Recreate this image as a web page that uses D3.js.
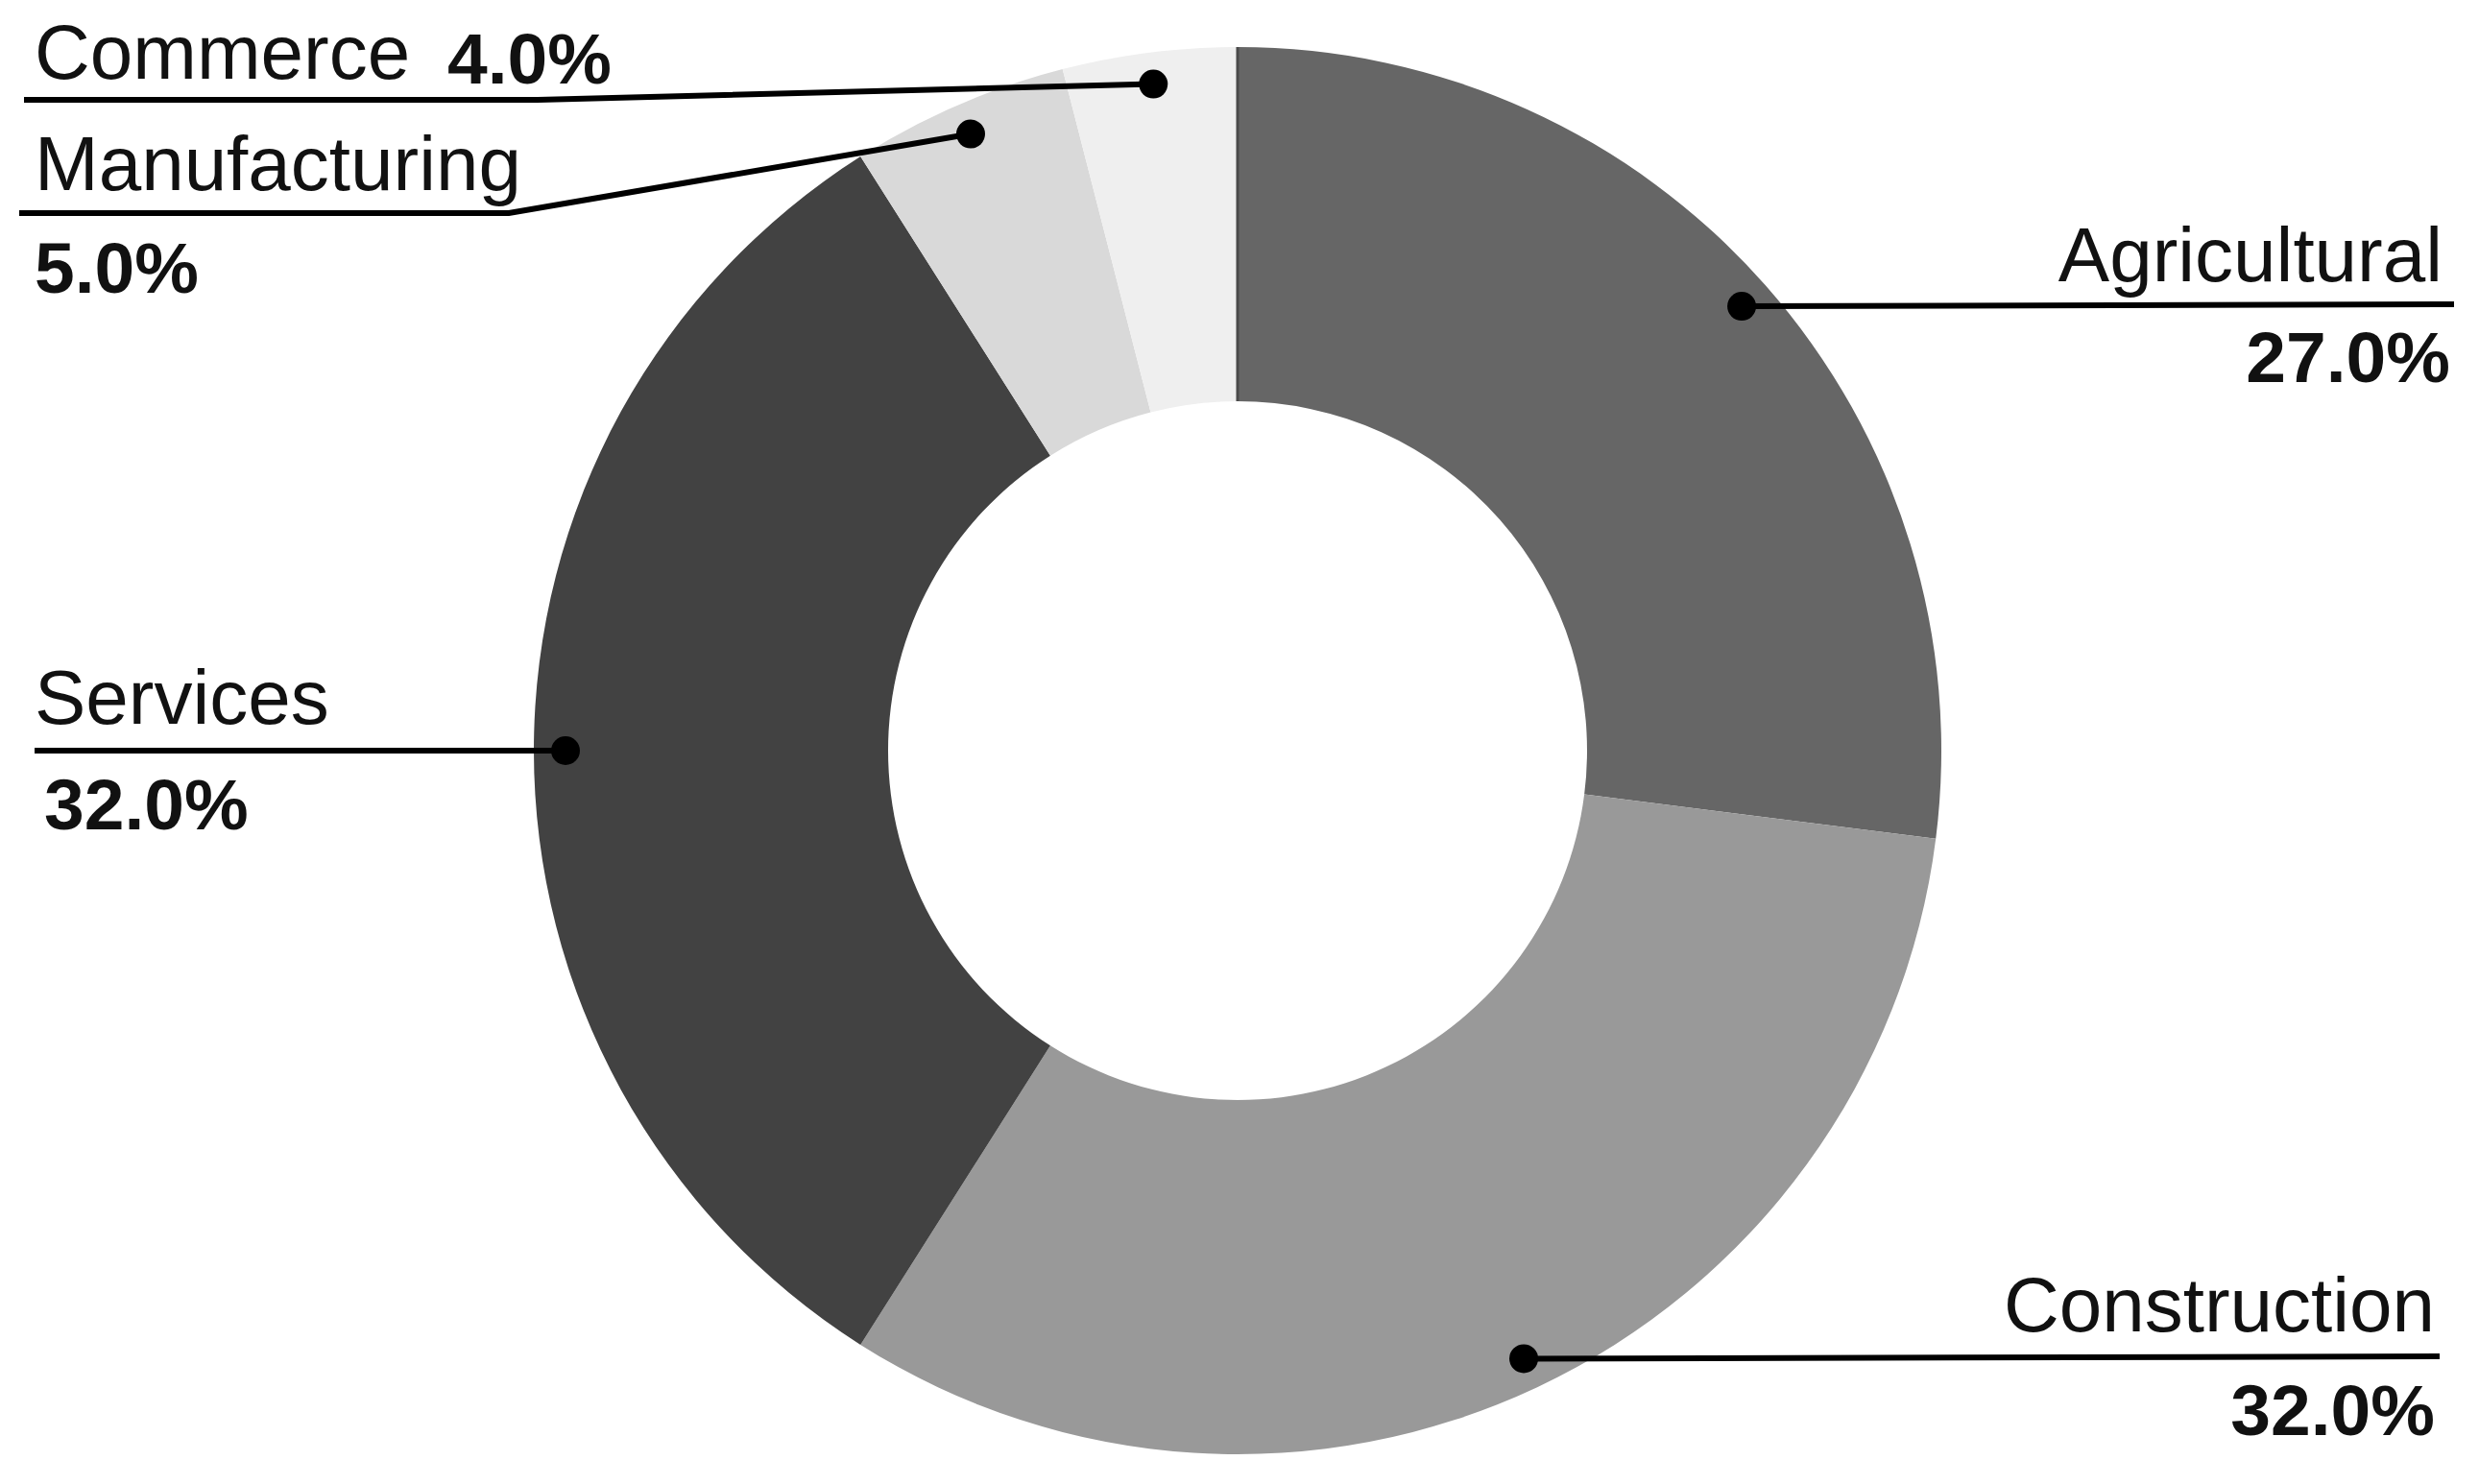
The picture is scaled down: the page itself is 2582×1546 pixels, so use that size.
<!DOCTYPE html>
<html>
<head>
<meta charset="utf-8">
<script src="https://cdn.jsdelivr.net/npm/d3@7"></script>
<style>
  html, body { margin: 0; padding: 0; background: #fff; }
  svg { display: block; }
  text { font-family: "Liberation Sans", Arial, sans-serif; fill: #111; }
</style>
</head>
<body>
<svg id="chart" width="2582" height="1546"></svg>
<script>
// data, clockwise from 12 o'clock
const categories = ["Agricultural", "Construction", "Services", "Manufacturing", "Commerce"];
const values = [27.0, 32.0, 32.0, 5.0, 4.0];
const colors = ["#666666", "#999999", "#424242", "#d9d9d9", "#efefef"];

// label placement (name position, value position, leader path end)
const labelLayout = {
  Agricultural:  { anchor: "end",   nx: 2544, ny: 293,  vx: 2552, vy: 398,  elbow: [2556, 317], end: [2556, 317] },
  Construction:  { anchor: "end",   nx: 2536, ny: 1387, vx: 2536, vy: 1495, elbow: [2541, 1413], end: [2541, 1413] },
  Services:      { anchor: "start", nx: 36,   ny: 754,  vx: 46,   vy: 864,  elbow: [36, 782],   end: [36, 782] },
  Manufacturing: { anchor: "start", nx: 36,   ny: 198,  vx: 36,   vy: 305,  elbow: [530, 222],  end: [20, 222] },
  Commerce:      { anchor: "start", nx: 36,   ny: 82,   vx: 466,  vy: 87,   elbow: [560, 104],  end: [25, 104] }
};

const cx = 1289, cy = 782;
const outerR = 733, innerR = 364, dotR = 700;

const svg = d3.select("#chart");
const g = svg.append("g").attr("transform", `translate(${cx},${cy})`);

const pie = d3.pie().sort(null).value(d => d.value);
const data = pie(categories.map((c, i) => ({ name: c, value: values[i], color: colors[i] })));

const arc = d3.arc().innerRadius(innerR).outerRadius(outerR);
const dotArc = d3.arc().innerRadius(dotR).outerRadius(dotR);

g.selectAll("path.slice")
  .data(data)
  .enter()
  .append("path")
  .attr("class", "slice")
  .attr("d", arc)
  .attr("fill", d => d.data.color);

// thin edge at the start of the first slice
const a0 = data[0].startAngle;
g.append("line")
  .attr("x1", innerR * Math.sin(a0)).attr("y1", -innerR * Math.cos(a0))
  .attr("x2", outerR * Math.sin(a0)).attr("y2", -outerR * Math.cos(a0))
  .attr("stroke", "#4a4a4a")
  .attr("stroke-width", 3);

const fmt = d3.format(".1f");

const labels = svg.append("g");

data.forEach(d => {
  const lay = labelLayout[d.data.name];
  const c = dotArc.centroid(d);
  const dot = [c[0] + cx, c[1] + cy];

  labels.append("path")
    .attr("d", d3.line()([dot, lay.elbow, lay.end]))
    .attr("fill", "none")
    .attr("stroke", "#000")
    .attr("stroke-width", 6);

  labels.append("circle")
    .attr("cx", dot[0])
    .attr("cy", dot[1])
    .attr("r", 15)
    .attr("fill", "#000");

  labels.append("text")
    .attr("x", lay.nx)
    .attr("y", lay.ny)
    .attr("text-anchor", lay.anchor)
    .attr("font-size", 80)
    .text(d.data.name);

  labels.append("text")
    .attr("x", lay.vx)
    .attr("y", lay.vy)
    .attr("text-anchor", lay.anchor)
    .attr("font-size", 75)
    .attr("font-weight", "bold")
    .text(fmt(d.data.value) + "%");
});
</script>
</body>
</html>
